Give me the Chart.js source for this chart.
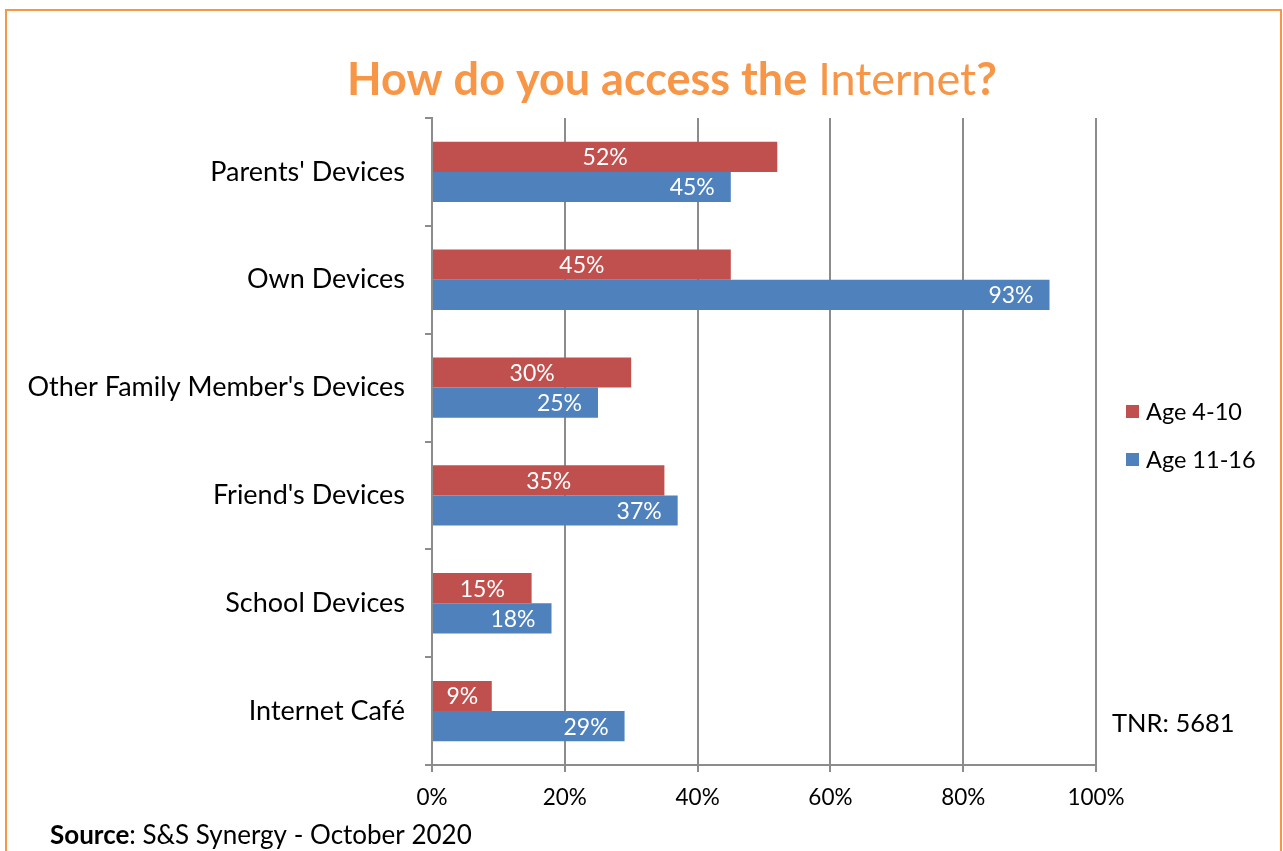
<!DOCTYPE html>
<html>
<head>
<meta charset="utf-8">
<title>How do you access the Internet?</title>
<script src="https://cdn.jsdelivr.net/npm/chart.js@4.4.1/dist/chart.umd.min.js"></script>
<style>
  html, body { margin: 0; padding: 0; background: #ffffff; }
  #wrap { position: relative; width: 1283px; height: 851px; }
</style>
</head>
<body>
<div id="wrap"><canvas id="chart" width="1283" height="851"></canvas></div>
<script>
// Survey data
const categories = [
  "Parents' Devices",
  "Own Devices",
  "Other Family Member's Devices",
  "Friend's Devices",
  "School Devices",
  "Internet Café"
];
const age4to10 = [52, 45, 30, 35, 15, 9];
const age11to16 = [45, 93, 25, 37, 18, 29];
const xTicks = [0, 20, 40, 60, 80, 100];

const FONT = "Lato, 'Open Sans', sans-serif";
const ORANGE = "#F79646";
const GRID = "#8c8c8c";

// Frame, title, legend, notes and value labels
const decorations = {
  id: "decorations",
  beforeDraw(chart) {
    const ctx = chart.ctx;
    ctx.save();
    ctx.fillStyle = "#ffffff";
    ctx.fillRect(0, 0, chart.width, chart.height);
    ctx.strokeStyle = ORANGE;
    ctx.lineWidth = 2;
    ctx.strokeRect(6, 10, 1275, 900);
    ctx.restore();
  },
  afterDatasetsDraw(chart) {
    const ctx = chart.ctx;
    ctx.save();
    ctx.fillStyle = "#ffffff";
    ctx.font = "23px " + FONT;
    ctx.textBaseline = "middle";
    chart.data.datasets.forEach((ds, di) => {
      chart.getDatasetMeta(di).data.forEach((bar, i) => {
        const txt = ds.data[i] + "%";
        if (di === 0) {
          // younger group: centred in the bar
          ctx.textAlign = "center";
          ctx.fillText(txt, (bar.base + bar.x) / 2, bar.y + 1);
        } else {
          // older group: inside the bar end
          ctx.textAlign = "right";
          ctx.fillText(txt, bar.x - 16, bar.y + 1);
        }
      });
    });
    ctx.restore();
  },
  afterDraw(chart) {
    const ctx = chart.ctx;
    ctx.save();
    // title with mixed weights
    const parts = [
      { t: "How do you access the ", w: "bold" },
      { t: "Internet", w: "normal" },
      { t: "?", w: "bold" }
    ];
    const size = 45;
    let total = 0;
    parts.forEach(p => { ctx.font = p.w + " " + size + "px " + FONT; p.width = ctx.measureText(p.t).width; total += p.width; });
    let x = 672 - total / 2;
    ctx.fillStyle = ORANGE;
    ctx.textBaseline = "alphabetic";
    ctx.textAlign = "left";
    parts.forEach(p => { ctx.font = p.w + " " + size + "px " + FONT; ctx.fillText(p.t, x, 95); x += p.width; });

    // legend
    ctx.font = "23.5px " + FONT;
    ctx.textBaseline = "middle";
    chart.data.datasets.forEach((ds, i) => {
      const y = 411 + i * 48;
      ctx.fillStyle = ds.backgroundColor;
      ctx.fillRect(1126, y - 6, 13, 13);
      ctx.fillStyle = "#000000";
      ctx.fillText(ds.label, 1146, y + 1);
    });

    // sample size note
    ctx.font = "25.5px " + FONT;
    ctx.fillText("TNR: 5681", 1112, 724);

    // source line
    ctx.font = "bold 26px " + FONT;
    const sw = ctx.measureText("Source").width;
    ctx.fillText("Source", 50, 836);
    ctx.font = "26px " + FONT;
    ctx.fillText(": S&S Synergy - October 2020", 50 + sw, 836);
    ctx.restore();
  }
};

new Chart(document.getElementById("chart"), {
  type: "bar",
  data: {
    labels: categories,
    datasets: [
      { label: "Age 4-10", data: age4to10, backgroundColor: "#C0504D", borderWidth: 0 },
      { label: "Age 11-16", data: age11to16, backgroundColor: "#4F81BD", borderWidth: 0 }
    ]
  },
  options: {
    indexAxis: "y",
    responsive: false,
    animation: false,
    devicePixelRatio: 1,
    layout: { padding: { top: 118, right: 187, left: 0, bottom: 0 } },
    datasets: { bar: { categoryPercentage: 0.56, barPercentage: 1.0 } },
    plugins: { legend: { display: false }, title: { display: false }, tooltip: { enabled: false } },
    scales: {
      x: {
        min: 0, max: 100,
        afterBuildTicks(scale) { scale.ticks = xTicks.map(v => ({ value: v })); },
        afterFit(scale) { scale.height = 86; },
        grid: { color: GRID, lineWidth: 2, tickLength: 7, drawTicks: true },
        border: { color: GRID, width: 2 },
        ticks: {
          padding: 12,
          color: "#000000",
          font: { family: FONT, size: 22.5 },
          callback: v => v + "%"
        }
      },
      y: {
        afterFit(scale) { scale.width = 432; },
        grid: { drawOnChartArea: false, color: GRID, lineWidth: 2, tickLength: 7, offset: true },
        border: { color: GRID, width: 2 },
        ticks: {
          padding: 20,
          color: "#000000",
          font: { family: FONT, size: 27 }
        }
      }
    }
  },
  plugins: [decorations]
});
</script>
</body>
</html>
